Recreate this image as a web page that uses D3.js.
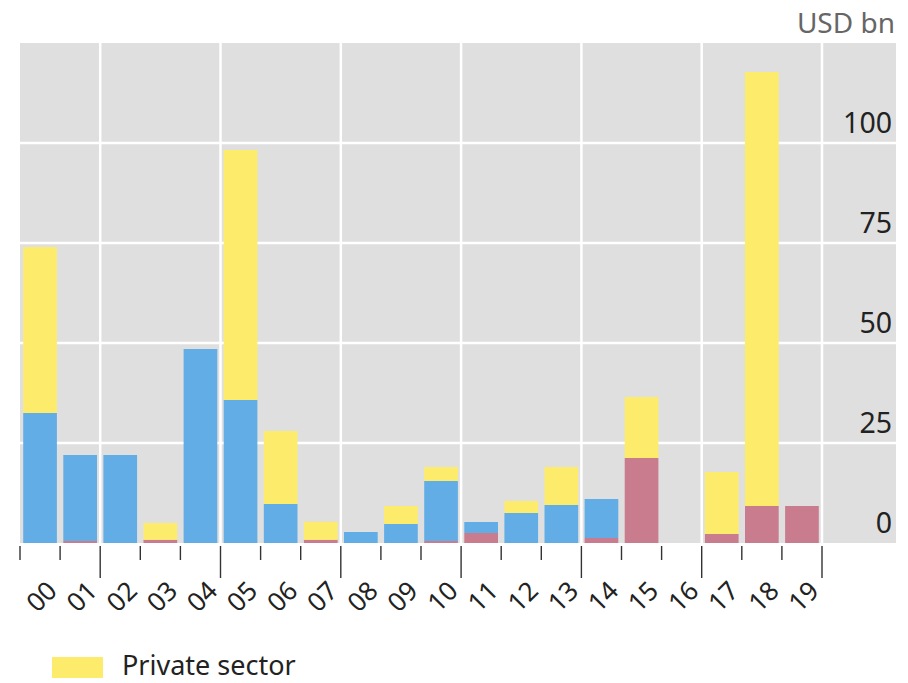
<!DOCTYPE html>
<html>
<head>
<meta charset="utf-8">
<script src="https://cdn.jsdelivr.net/npm/d3@7"></script>
<style>
  html, body { margin: 0; padding: 0; background: #fff; }
  svg { display: block; font-family: "Noto Sans", "Open Sans", sans-serif; }
</style>
</head>
<body>
<svg id="chart" width="908" height="683"></svg>
<script>
// Years (2000–2019, two-digit labels)
const years = ["00","01","02","03","04","05","06","07","08","09",
               "10","11","12","13","14","15","16","17","18","19"];

// USD bn, stacked bottom to top
const officialSector = [0, 0.5, 0, 0.8, 0, 0, 0, 0.8, 0, 0,
                        0.5, 2.5, 0, 0, 1.25, 21.25, 0, 2.25, 9.25, 9.25];
const publicSector   = [32.5, 21.5, 22, 0, 48.5, 35.75, 9.75, 0, 2.75, 4.75,
                        15, 2.75, 7.5, 9.5, 9.75, 0, 0, 0, 0, 0];
const privateSector  = [41.5, 0, 0, 4.2, 0, 62.5, 18.25, 4.5, 0, 4.5,
                        3.5, 0, 3, 9.5, 0, 15.25, 0, 15.5, 108.5, 0];

const seriesKeys   = ["official", "public", "private"];
const seriesColors = ["#c97c8e", "#62ade6", "#fdec6c"];
const yTicks = [0, 25, 50, 75, 100];
const unitLabel = "USD bn";
const legendLabel = "Private sector";

const rows = years.map((y, i) => ({
  year: y,
  official: officialSector[i],
  public: publicSector[i],
  private: privateSector[i]
}));

const svg = d3.select("#chart");
const plot = { left: 20, right: 896, top: 43, bottom: 543, barsRight: 822 };

const x = d3.scaleBand()
  .domain(years)
  .range([plot.left, plot.barsRight])
  .paddingInner(0.16)
  .paddingOuter(0.08);

const y = d3.scaleLinear()
  .domain([0, 125])
  .range([plot.bottom, plot.top]);

// boundary positions between bars (and outer edges)
const step = x.step();
const x0 = plot.left;
const boundaries = d3.range(0, years.length + 1);
const boundaryX = b => x0 + b * step;

// plot background
svg.append("rect")
  .attr("x", plot.left).attr("y", plot.top)
  .attr("width", plot.right - plot.left)
  .attr("height", plot.bottom - plot.top)
  .attr("fill", "#dfdfdf");

// horizontal gridlines
svg.append("g").selectAll("line")
  .data(yTicks.filter(d => d > 0))
  .join("line")
  .attr("x1", plot.left).attr("x2", plot.right)
  .attr("y1", d => y(d)).attr("y2", d => y(d))
  .attr("stroke", "#fff").attr("stroke-width", 2.5);

// vertical gridlines every three years
const majorBoundaries = boundaries.filter(b => b % 3 === 2);
svg.append("g").selectAll("line")
  .data(majorBoundaries)
  .join("line")
  .attr("x1", boundaryX).attr("x2", boundaryX)
  .attr("y1", plot.top).attr("y2", plot.bottom)
  .attr("stroke", "#fff").attr("stroke-width", 2.5);

// stacked bars
const stacked = d3.stack().keys(seriesKeys)(rows);
svg.append("g").selectAll("g")
  .data(stacked)
  .join("g")
  .attr("fill", (d, i) => seriesColors[i])
  .selectAll("rect")
  .data(d => d.filter(s => s[1] - s[0] > 0))
  .join("rect")
  .attr("x", d => x(d.data.year))
  .attr("width", x.bandwidth())
  .attr("y", d => y(d[1]))
  .attr("height", d => y(d[0]) - y(d[1]));

// x-axis tick marks at bar boundaries
svg.append("g").selectAll("line")
  .data(boundaries)
  .join("line")
  .attr("x1", boundaryX).attr("x2", boundaryX)
  .attr("y1", plot.bottom + 3)
  .attr("y2", b => plot.bottom + (b % 3 === 2 ? 35 : 17))
  .attr("stroke", "#333").attr("stroke-width", 1.4);

// x-axis labels, rotated
svg.append("g").selectAll("text")
  .data(years)
  .join("text")
  .attr("transform", d => `translate(${x(d) + x.bandwidth() / 2 + 1},${plot.bottom + 53}) rotate(-45)`)
  .attr("text-anchor", "middle")
  .attr("dominant-baseline", "central")
  .attr("font-size", 26)
  .attr("fill", "#222")
  .text(d => d);

// y-axis labels inside the plot, right side, above gridlines
svg.append("g").selectAll("text")
  .data(yTicks)
  .join("text")
  .attr("x", 892)
  .attr("y", d => y(d) - 10.5)
  .attr("text-anchor", "end")
  .attr("font-size", 28.5)
  .attr("fill", "#222")
  .text(d => d);

// unit label
svg.append("text")
  .attr("x", 895).attr("y", 33)
  .attr("text-anchor", "end")
  .attr("font-size", 28)
  .attr("fill", "#666")
  .text(unitLabel);

// legend
svg.append("rect")
  .attr("x", 52).attr("y", 657)
  .attr("width", 51).attr("height", 21)
  .attr("fill", seriesColors[2]);
svg.append("text")
  .attr("x", 122).attr("y", 675)
  .attr("font-size", 27)
  .attr("fill", "#222")
  .text(legendLabel);
</script>
</body>
</html>
